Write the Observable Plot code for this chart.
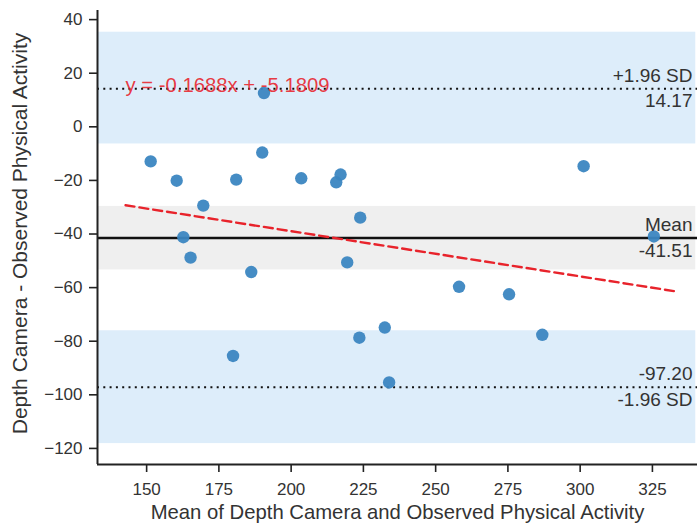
<!DOCTYPE html>
<html>
<head>
<meta charset="utf-8">
<script src="https://cdn.jsdelivr.net/npm/d3@7"></script>
<script src="https://cdn.jsdelivr.net/npm/@observablehq/plot@0.6"></script>
<style>
  html, body { margin: 0; padding: 0; background: #fff; }
  #chart { width: 697px; height: 526px; }
</style>
</head>
<body>
<div id="chart"></div>
<script>
// ---- data ----
const meanVals = [151.4, 160.4, 181.0, 190.0, 190.6, 203.5, 215.6, 217.1, 169.6, 223.9, 162.7, 165.2, 186.2, 219.4, 232.4, 223.6, 179.9, 233.9, 301.2, 325.5, 258.1, 275.4, 286.9];
const diffVals = [-12.9, -20.1, -19.7, -9.6, 12.6, -19.2, -20.7, -17.8, -29.4, -33.9, -41.2, -48.8, -54.2, -50.6, -74.9, -78.7, -85.5, -95.4, -14.7, -40.9, -59.7, -62.5, -77.6];

const meanDiff = -41.51;
const sdUpper = 14.17;
const sdLower = -97.20;

// confidence bands (lower, upper)
const bandLows  = [-6.4, -53.4, -118.2];
const bandHighs = [35.3, -29.7, -76.1];
const bandKinds = ["loa", "mean", "loa"];

// regression
const slope = -0.1688;
const intercept = -5.1809;
const regX = [142.7, 334.0];
const eqLabel = "y = -0.1688x + -5.1809";

const xTicks = [150, 175, 200, 225, 250, 275, 300, 325];
const yTicks = [40, 20, 0, -20, -40, -60, -80, -100, -120];
const xDomain = [133.0, 340.6];
const yDomain = [-126.0, 43.4];

const xTitle = "Mean of Depth Camera and Observed Physical Activity";
const yTitle = "Depth Camera - Observed Physical Activity";

const upperLabels = ["+1.96 SD", "Mean", "-97.20"];
const lowerLabels = ["14.17", "-41.51", "-1.96 SD"];
const labelLevels = [sdUpper, meanDiff, sdLower];

// ---- tables built from arrays ----
const points = meanVals.map((m, i) => ({x: m, y: diffVals[i]}));
const bands = bandLows.map((lo, i) => ({y1: lo, y2: bandHighs[i], kind: bandKinds[i]}));
const regLine = regX.map(x => ({x, y: slope * x + intercept}));
const upperText = upperLabels.map((t, i) => ({t, y: labelLevels[i]}));
const lowerText = lowerLabels.map((t, i) => ({t, y: labelLevels[i]}));

const textColor = "#333";

const chart = Plot.plot({
  width: 697,
  height: 526,
  marginLeft: 97,
  marginRight: 0,
  marginTop: 10,
  marginBottom: 62,
  style: {fontFamily: "'Liberation Sans', Arial, sans-serif", color: textColor, background: "#fff"},
  x: {domain: xDomain},
  y: {domain: yDomain},
  marks: [
    Plot.rect(bands, {
      x1: xDomain[0], x2: xDomain[1] - 0.6,
      y1: "y1", y2: "y2",
      fill: d => d.kind === "loa" ? "#ddedfa" : "#efefef"
    }),
    Plot.ruleY([sdUpper, sdLower], {stroke: "#111", strokeWidth: 2, strokeDasharray: "2,4.3"}),
    Plot.ruleY([meanDiff], {stroke: "#111", strokeWidth: 2.6}),
    Plot.line(regLine, {x: "x", y: "y", stroke: "#e8232b", strokeWidth: 2.4, strokeDasharray: "9,5"}),
    Plot.dot(points, {x: "x", y: "y", r: 6.2, fill: "#3b86c1", fillOpacity: 0.95}),
    Plot.text([eqLabel], {
      x: regX[0], y: sdUpper, text: d => d, textAnchor: "start", lineAnchor: "middle",
      dy: -3, fontSize: 20.3, fill: "#e8232b", fillOpacity: 0.9
    }),
    Plot.text(upperText, {
      y: "y", text: "t", frameAnchor: "right", textAnchor: "end", lineAnchor: "middle",
      dx: -5, dy: -13, fontSize: 19, fill: textColor
    }),
    Plot.text(lowerText, {
      y: "y", text: "t", frameAnchor: "right", textAnchor: "end", lineAnchor: "middle",
      dx: -5, dy: 12.5, fontSize: 19, fill: textColor
    }),
    Plot.axisX({ticks: xTicks, tickSize: 8, tickPadding: 10, fontSize: 17, label: null, stroke: "#222", strokeWidth: 1.6}),
    Plot.axisY({ticks: yTicks, tickSize: 8, tickPadding: 7, fontSize: 17, label: null, stroke: "#222", strokeWidth: 1.6}),
    Plot.ruleX([xDomain[0]], {stroke: "#222", strokeWidth: 2}),
    Plot.ruleY([yDomain[0]], {stroke: "#222", strokeWidth: 2}),
    Plot.text([xTitle], {frameAnchor: "bottom", text: d => d, textAnchor: "middle", lineAnchor: "middle", dy: 48, fontSize: 20.3, fill: textColor}),
    Plot.text([yTitle], {frameAnchor: "left", text: d => d, rotate: -90, textAnchor: "middle", lineAnchor: "middle", dx: -77, dy: -4, fontSize: 21, fill: textColor})
  ]
});
document.getElementById("chart").appendChild(chart);
</script>
</body>
</html>
